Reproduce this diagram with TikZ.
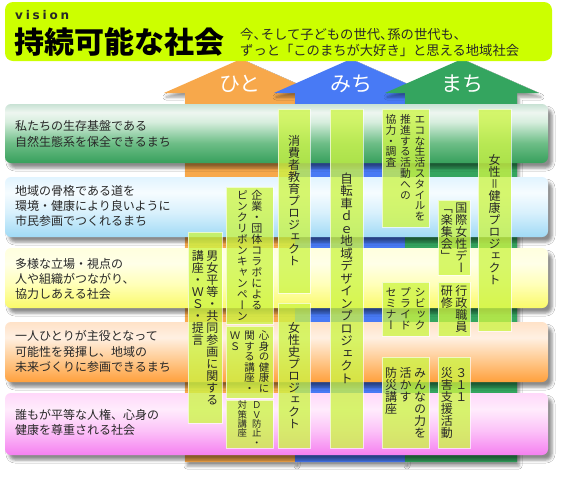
\documentclass[tikz,border=0pt]{standalone}
\usepackage{fontspec}
\usetikzlibrary{shadows.blur}
\newfontfamily\jp{Noto Sans CJK JP}
\newfontfamily\vjp[RawFeature=+vert]{Noto Sans CJK JP}
\newfontfamily\visionfont{DejaVu Sans}

\definecolor{bannerlime}{RGB}{204,255,0}
\definecolor{arrorange}{RGB}{247,168,75}
\definecolor{arrblue}{RGB}{72,122,245}
\definecolor{arrgreen}{RGB}{52,165,95}
\definecolor{boxlime}{RGB}{205,245,70}
\definecolor{txt}{RGB}{40,40,40}

\definecolor{gA1}{RGB}{55,160,92}
\definecolor{gA2}{RGB}{110,190,135}
\definecolor{gA3}{RGB}{215,238,222}
\definecolor{gA4}{RGB}{238,246,240}
\definecolor{gA5}{RGB}{200,226,212}
\pgfdeclareverticalshading{rowA}{100bp}{color(0bp)=(gA1); color(25bp)=(gA1); color(42bp)=(gA2); color(60bp)=(gA3); color(68bp)=(gA4); color(75bp)=(gA5); color(100bp)=(gA5)}

\definecolor{gB1}{RGB}{160,218,245}
\definecolor{gB2}{RGB}{215,240,252}
\definecolor{gB3}{RGB}{246,252,255}
\definecolor{gB4}{RGB}{225,244,255}
\pgfdeclareverticalshading{rowB}{100bp}{color(0bp)=(gB1); color(25bp)=(gB1); color(45bp)=(gB2); color(62bp)=(gB3); color(75bp)=(gB4); color(100bp)=(gB4)}

\definecolor{gC1}{RGB}{250,250,105}
\definecolor{gC2}{RGB}{255,255,185}
\definecolor{gC3}{RGB}{255,255,232}
\definecolor{gC4}{RGB}{255,255,222}
\pgfdeclareverticalshading{rowC}{100bp}{color(0bp)=(gC1); color(25bp)=(gC1); color(45bp)=(gC2); color(62bp)=(gC3); color(75bp)=(gC4); color(100bp)=(gC4)}

\definecolor{gD1}{RGB}{255,160,60}
\definecolor{gD2}{RGB}{255,205,150}
\definecolor{gD3}{RGB}{255,240,226}
\definecolor{gD4}{RGB}{255,226,200}
\pgfdeclareverticalshading{rowD}{100bp}{color(0bp)=(gD1); color(25bp)=(gD1); color(45bp)=(gD2); color(62bp)=(gD3); color(75bp)=(gD4); color(100bp)=(gD4)}

\definecolor{gE1}{RGB}{245,128,240}
\definecolor{gE2}{RGB}{252,195,248}
\definecolor{gE3}{RGB}{255,236,252}
\definecolor{gE4}{RGB}{255,216,250}
\pgfdeclareverticalshading{rowE}{100bp}{color(0bp)=(gE1); color(25bp)=(gE1); color(45bp)=(gE2); color(62bp)=(gE3); color(75bp)=(gE4); color(100bp)=(gE4)}

\tikzset{
  rowbox/.style={rounded corners=6pt,
    blur shadow={shadow xshift=4pt, shadow yshift=-5pt, shadow blur radius=3pt, shadow opacity=45}},
  arrowshape/.style={blur shadow={shadow xshift=2pt, shadow yshift=-4pt, shadow blur radius=3pt, shadow opacity=40}},
  rowtext/.style={anchor=west, align=left, text=txt, font=\jp\fontsize{12}{15.2}\selectfont, inner sep=0pt},
  projbox/.style={fill=boxlime, fill opacity=0.78, draw=white, draw opacity=0.65, line width=0.9pt},
  vtext/.style={text=txt, inner sep=0pt},
  arrlabel/.style={text=white, font=\jp\fontsize{21}{21}\selectfont, inner sep=0pt}
}

% vertical stacking of characters
\makeatletter
\newcommand\vch[1]{\hbox{\vrule height .88em depth .12em width 0pt\hbox to 1em{\hss\smash{#1}\hss}}}
\def\vst@ck#1{\ifx\vend#1\else\vch{#1}\expandafter\vst@ck\fi}
\newcommand\vc[1]{\vtop{\offinterlineskip\vst@ck#1\vend}}
\makeatother
\newcommand\vsep{\kern\dimexpr14.5pt-1em\relax}
\newcommand\hcomma{、\kern-.45em}
\newcommand\projitem[7]{%
  \draw[projbox] (#1,#2) rectangle (#3,#4);
  \node[vtext, font=\vjp\fontsize{#5}{#5}\selectfont] (#6) at ({(#1+#3)/2},{(#2+#4)/2}) {#7};
}

\begin{document}
\begin{tikzpicture}[x=1pt,y=-1pt]
\useasboundingbox (0,0) rectangle (563,477);
\fill[white] (0,0) rectangle (563,477);

% arrows
\fill[arrorange, arrowshape] (185,462) -- (185,93) -- (164,93) -- (241,59) -- (318,93) -- (295,93) -- (295,462) -- cycle;
\fill[arrblue, arrowshape] (295,462) -- (295,93) -- (274,93) -- (351,59) -- (428,93) -- (405,93) -- (405,462) -- cycle;
\fill[arrgreen, arrowshape] (405,462) -- (405,93) -- (385,93) -- (462,59) -- (539,93) -- (517,93) -- (517,462) -- cycle;

% banner
\fill[bannerlime, rounded corners=8pt] (5,2) rectangle (552,61);
\node[anchor=west, inner sep=0pt, text=txt, font=\visionfont\bfseries\fontsize{12}{12}\selectfont] (vision) at (15,15)
  {v\kern2.8pt i\kern2.8pt s\kern2.8pt i\kern2.8pt o\kern2.8pt n};
\node[anchor=west, inner sep=0pt, text=black, font=\jp\bfseries\fontsize{30}{30}\selectfont] (title) at (14,42) {持続可能な社会};
\node[anchor=west, align=left, inner sep=0pt, text=txt, font=\jp\fontsize{13.3}{16.2}\selectfont] (sub) at (240,42.5)
  {今\hcomma そして子どもの世代\hcomma 孫の世代も\hcomma\\ずっと「このまちが大好き」と思える地域社会};

% arrow labels
\node[arrlabel] (hito) at (240,84) {ひと};
\node[arrlabel] (michi) at (351,84) {みち};
\node[arrlabel] (machi) at (462,84) {まち};

% rows
\shade[shading=rowA, rowbox] (5,104) rectangle (548,163);
\shade[shading=rowB, rowbox] (5,177) rectangle (548,237);
\shade[shading=rowC, rowbox] (5,248) rectangle (548,308);
\shade[shading=rowD, rowbox] (5,322) rectangle (548,382);
\shade[shading=rowE, rowbox] (5,393) rectangle (548,455);

\node[rowtext] (r1) at (15,134) {私たちの生存基盤である\\自然生態系を保全できるまち};
\node[rowtext] (r2) at (15,206) {地域の骨格である道を\\環境・健康により良いように\\市民参画でつくれるまち};
\node[rowtext] (r3) at (15,279) {多様な立場・視点の\\人や組織がつながり、\\協力しあえる社会};
\node[rowtext] (r4) at (15,351.5) {一人ひとりが主役となって\\可能性を発揮し、地域の\\未来づくりに参画できるまち};
\node[rowtext] (r5) at (15,422.5) {誰もが平等な人権、心身の\\健康を尊重される社会};

% project boxes (columns listed left to right; text reads right to left)
\projitem{188}{232}{222}{423}{12}{p1}{\vc{講座・ＷＳ・提言}\vsep\vc{男女平等・共同参画に関する}}
\projitem{226}{187}{273}{324}{11}{p2}{\vc{ピンクリボンキャンペーン}\vsep\vc{企業・団体コラボによる}}
\projitem{226}{326}{273}{398}{10.5}{p3}{\vc{ＷＳ}\vsep\vc{関する講座・}\vsep\vc{心身の健康に}}
\projitem{226}{400}{273}{448}{9.4}{p4}{\vc{対策講座}\vsep\vc{ＤＶ防止・}}
\projitem{278}{109}{310}{293}{12}{p5}{\vc{消費者教育プロジェクト}}
\projitem{278}{303}{310}{448}{12}{p6}{\vc{女性史プロジェクト}}
\projitem{330}{109}{363}{448}{12.5}{p7}{\vc{自転車ｄｅ地域デザインプロジェクト}}
\projitem{382}{109}{429}{227}{10.8}{p8}{\vc{協力・調査}\vsep\vc{推進する活動への}\vsep\vc{エコな生活スタイルを}}
\projitem{438}{200}{470}{275}{12}{p9}{\vc{「楽集会」}\vsep\vc{国際女性デー}}
\projitem{478}{109}{511}{331}{12}{p10}{\vc{女性＝健康プロジェクト}}
\projitem{382}{282}{429}{336}{11}{p11}{\vc{セミナー}\vsep\vc{プライド}\vsep\vc{シビック}}
\projitem{438}{282}{470}{336}{12}{p12}{\vc{研修}\vsep\vc{行政職員}}
\projitem{382}{357}{429}{448}{12}{p13}{\vc{防災講座}\vsep\vc{活かす}\vsep\vc{みんなの力を}}
\projitem{438}{357}{470}{448}{12}{p14}{\vc{災害支援活動}\vsep\vc{３１１}}
\end{tikzpicture}
\end{document}
